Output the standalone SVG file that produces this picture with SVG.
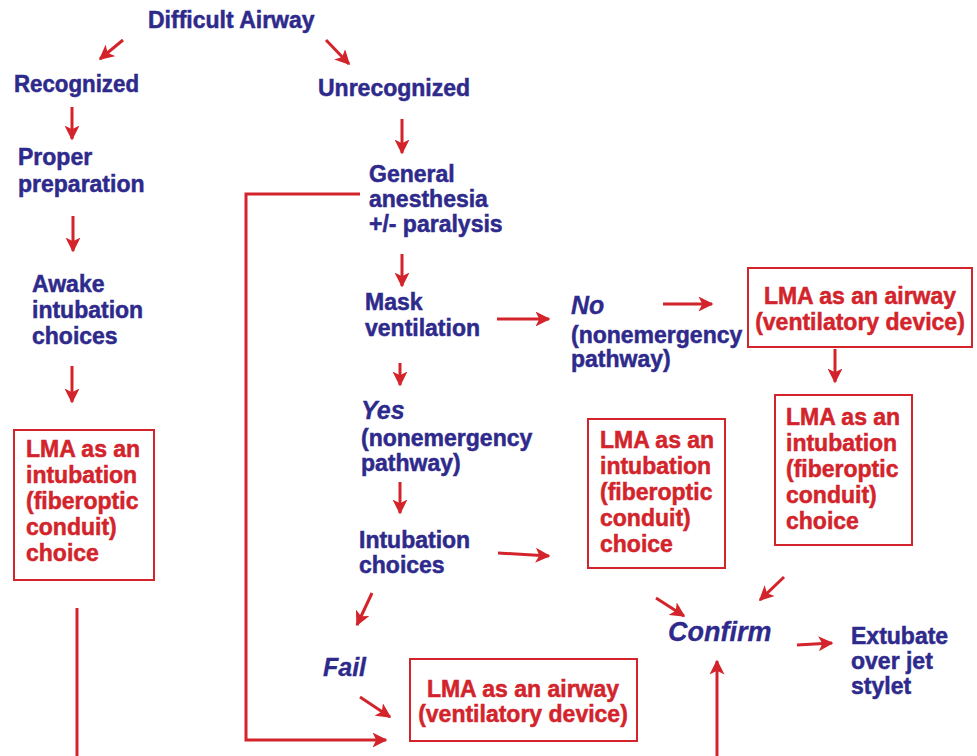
<svg xmlns="http://www.w3.org/2000/svg" width="977" height="756" viewBox="0 0 977 756">
<defs>
<style>
text{font-family:"Liberation Sans Narrow","Liberation Sans",Arial,sans-serif;font-weight:bold;font-size:23px;stroke-width:0.5px}
.b{fill:#2e2a8c;stroke:#2e2a8c}
.r{fill:#d3232b;stroke:#d3232b}
.i{font-family:"Liberation Sans",Arial,sans-serif;font-style:italic;font-size:25px;stroke-width:0.3px}
.box{fill:#fff;stroke:#d3232b;stroke-width:2}
.c{fill:none;stroke:#d3232b;stroke-width:3}
.ln{fill:none;stroke:#d3232b;stroke-width:3}
</style>
<marker id="ah" viewBox="0 0 10 10" refX="9" refY="5" markerWidth="5" markerHeight="5" orient="auto" markerUnits="strokeWidth">
<path d="M0,0 L10,5 L0,10 L2.5,5 Z" fill="#d3232b"/>
</marker>
</defs>
<rect width="977" height="756" fill="#fff"/>
<g id="connectors">
<line class="c" x1="123" y1="40" x2="100" y2="59" marker-end="url(#ah)"/>
<line class="c" x1="326" y1="40" x2="349" y2="64" marker-end="url(#ah)"/>
<line class="c" x1="72" y1="107" x2="72" y2="139" marker-end="url(#ah)"/>
<line class="c" x1="73" y1="216" x2="73" y2="251" marker-end="url(#ah)"/>
<line class="c" x1="72" y1="366" x2="72" y2="402" marker-end="url(#ah)"/>
<line class="ln" x1="77" y1="608" x2="77" y2="756"/>
<line class="c" x1="402" y1="119" x2="402" y2="153" marker-end="url(#ah)"/>
<polyline class="c" points="360,194 246,194 246,740 386,740" marker-end="url(#ah)"/>
<line class="c" x1="402" y1="254" x2="402" y2="286" marker-end="url(#ah)"/>
<line class="c" x1="497" y1="319" x2="549" y2="319" marker-end="url(#ah)"/>
<line class="c" x1="663" y1="304" x2="712" y2="304" marker-end="url(#ah)"/>
<line class="c" x1="835" y1="349" x2="835" y2="382" marker-end="url(#ah)"/>
<line class="c" x1="400" y1="363" x2="400" y2="385" marker-end="url(#ah)"/>
<line class="c" x1="400" y1="482" x2="400" y2="513" marker-end="url(#ah)"/>
<line class="c" x1="498" y1="553" x2="549" y2="556" marker-end="url(#ah)"/>
<line class="c" x1="784" y1="577" x2="760" y2="600" marker-end="url(#ah)"/>
<line class="c" x1="656" y1="598" x2="684" y2="616" marker-end="url(#ah)"/>
<line class="c" x1="797" y1="645" x2="832" y2="643" marker-end="url(#ah)"/>
<line class="c" x1="717" y1="756" x2="717" y2="661" marker-end="url(#ah)"/>
<line class="c" x1="372" y1="593" x2="357" y2="625" marker-end="url(#ah)"/>
<line class="c" x1="360" y1="697" x2="390" y2="717" marker-end="url(#ah)"/>
</g>
<g id="n-difficult"><text class="b" x="148" y="28">Difficult Airway</text></g>
<g id="n-recognized"><text class="b" x="14" y="92" textLength="125" lengthAdjust="spacingAndGlyphs">Recognized</text></g>
<g id="n-proper"><text class="b" x="18" y="165">Proper</text><text class="b" x="18" y="192">preparation</text></g>
<g id="n-awake"><text class="b" x="32" y="292">Awake</text><text class="b" x="32" y="318">intubation</text><text class="b" x="32" y="344">choices</text></g>
<g id="n-lma-left"><rect class="box" x="14" y="430" width="140" height="150"/>
<text class="r" x="26" y="457">LMA as an</text><text class="r" x="26" y="483">intubation</text><text class="r" x="26" y="509">(fiberoptic</text><text class="r" x="26" y="535">conduit)</text><text class="r" x="26" y="561">choice</text></g>
<g id="n-unrecognized"><text class="b" x="318" y="96">Unrecognized</text></g>
<g id="n-general"><text class="b" x="369" y="182">General</text><text class="b" x="369" y="207">anesthesia</text><text class="b" x="369" y="232">+/- paralysis</text></g>
<g id="n-mask"><text class="b" x="365" y="310">Mask</text><text class="b" x="365" y="336">ventilation</text></g>
<g id="n-no"><text class="b i" x="571" y="314">No</text><text class="b" x="571" y="343">(nonemergency</text><text class="b" x="571" y="367">pathway)</text></g>
<g id="n-lma-airway-top"><rect class="box" x="748" y="268" width="224" height="79"/>
<text class="r" x="860" y="304" text-anchor="middle">LMA as an airway</text><text class="r" x="860" y="330" text-anchor="middle">(ventilatory device)</text></g>
<g id="n-lma-right"><rect class="box" x="775" y="395" width="137" height="150"/>
<text class="r" x="786" y="425">LMA as an</text><text class="r" x="786" y="451">intubation</text><text class="r" x="786" y="477">(fiberoptic</text><text class="r" x="786" y="503">conduit)</text><text class="r" x="786" y="529">choice</text></g>
<g id="n-yes"><text class="b i" x="361" y="419">Yes</text><text class="b" x="361" y="446">(nonemergency</text><text class="b" x="361" y="471">pathway)</text></g>
<g id="n-intubation"><text class="b" x="359" y="548">Intubation</text><text class="b" x="359" y="573">choices</text></g>
<g id="n-lma-mid"><rect class="box" x="588" y="419" width="137" height="149"/>
<text class="r" x="600" y="448">LMA as an</text><text class="r" x="600" y="474">intubation</text><text class="r" x="600" y="500">(fiberoptic</text><text class="r" x="600" y="526">conduit)</text><text class="r" x="600" y="552">choice</text></g>
<g id="n-confirm"><text class="b i" x="668" y="641" style="font-size:27px">Confirm</text></g>
<g id="n-extubate"><text class="b" x="851" y="644">Extubate</text><text class="b" x="851" y="669">over jet</text><text class="b" x="851" y="694">stylet</text></g>
<g id="n-fail"><text class="b i" x="323" y="676">Fail</text></g>
<g id="n-lma-airway-bottom"><rect class="box" x="410" y="659" width="227" height="82"/>
<text class="r" x="523" y="697" text-anchor="middle">LMA as an airway</text><text class="r" x="523" y="722" text-anchor="middle">(ventilatory device)</text></g>
</svg>
